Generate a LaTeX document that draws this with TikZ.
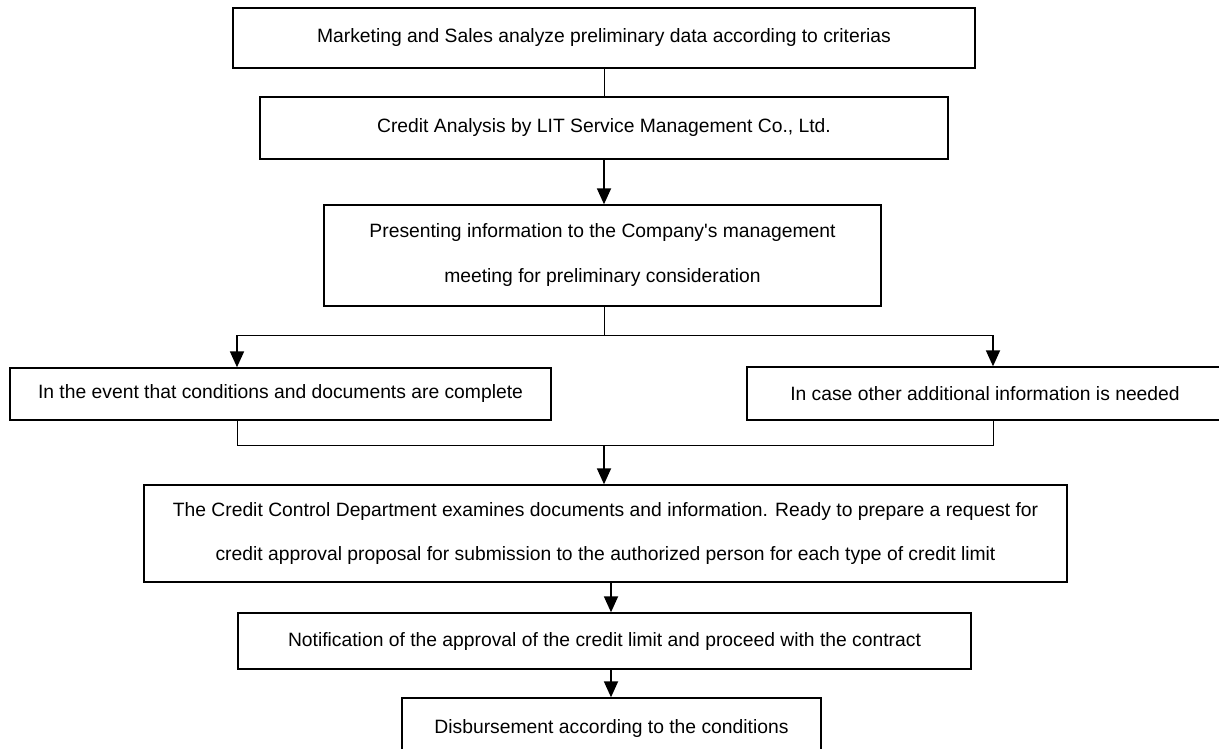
\documentclass[tikz,border=0pt]{standalone}
\usepackage{fontspec}
\setmainfont{Liberation Sans}
\usetikzlibrary{arrows.meta}
\begin{document}
\begin{tikzpicture}[x=1pt,y=-1pt,
    stage/.style={draw, line width=1.4pt, inner sep=0pt, align=center,
      font=\fontsize{19.3}{45}\selectfont},
    link/.style={line width=0.8pt},
    flow/.style={line width=1.8pt, -{Triangle[width=14pt,length=16pt]}}]
  \useasboundingbox (0,0) rectangle (1219,748);

  \node(market) [stage, minimum width=742pt, minimum height=60pt] at (604,38)
    {Marketing and Sales analyze preliminary data according to criterias};
  \node(credit) [stage, minimum width=688pt, minimum height=62pt] at (604,128)
    {Credit Analysis by LIT Service Management Co., Ltd.};
  \node(present) [stage, minimum width=557pt, minimum height=101pt] at (602.5,255.5)
    {Presenting information to the Company\textquotesingle s management\\meeting for preliminary consideration};
  \node(complete) [stage, minimum width=541pt, minimum height=52pt] at (280.5,394)
    {In the event that conditions and documents are complete};
  \node(additional) [stage, minimum width=476pt, minimum height=53pt] at (985,393.5)
    {In case other additional information is needed};
  \node(control) [stage, minimum width=923pt, minimum height=97pt] at (605.5,533.5)
    {The Credit Control Department examines documents and information. Ready to prepare a request for\\credit approval proposal for submission to the authorized person for each type of credit limit};
  \node(notify) [stage, minimum width=733pt, minimum height=56pt] at (604.5,641)
    {Notification of the approval of the credit limit and proceed with the contract};
  \node(disburse) [stage, minimum width=419pt, minimum height=60pt] at (611.5,728)
    {Disbursement according to the conditions};

  % split and merge points
  \coordinate(split) at (604,335);
  \coordinate(splitL) at (237,335);
  \coordinate(splitR) at (993,335);
  \coordinate(merge) at (604,445);
  \coordinate(mergeL) at (237,445);
  \coordinate(mergeR) at (993,445);
  \coordinate(lowline) at (611,0);

  \draw[link] (market) -- (credit);
  \draw[flow] (credit.south) -- (credit.south |- present.north);
  \draw[link] (split |- present.south) -- (split);
  \draw[link] (splitL) -- (splitR);
  \draw[flow] (splitL) -- (splitL |- complete.north);
  \draw[flow] (splitR) -- (splitR |- additional.north);
  \draw[link] (mergeL |- complete.south) -- (mergeL) -- (mergeR) -- (mergeR |- additional.south);
  \draw[flow] (merge) -- (merge |- control.north);
  \draw[flow] (lowline |- control.south) -- (lowline |- notify.north);
  \draw[flow] (lowline |- notify.south) -- (lowline |- disburse.north);
\end{tikzpicture}
\end{document}
